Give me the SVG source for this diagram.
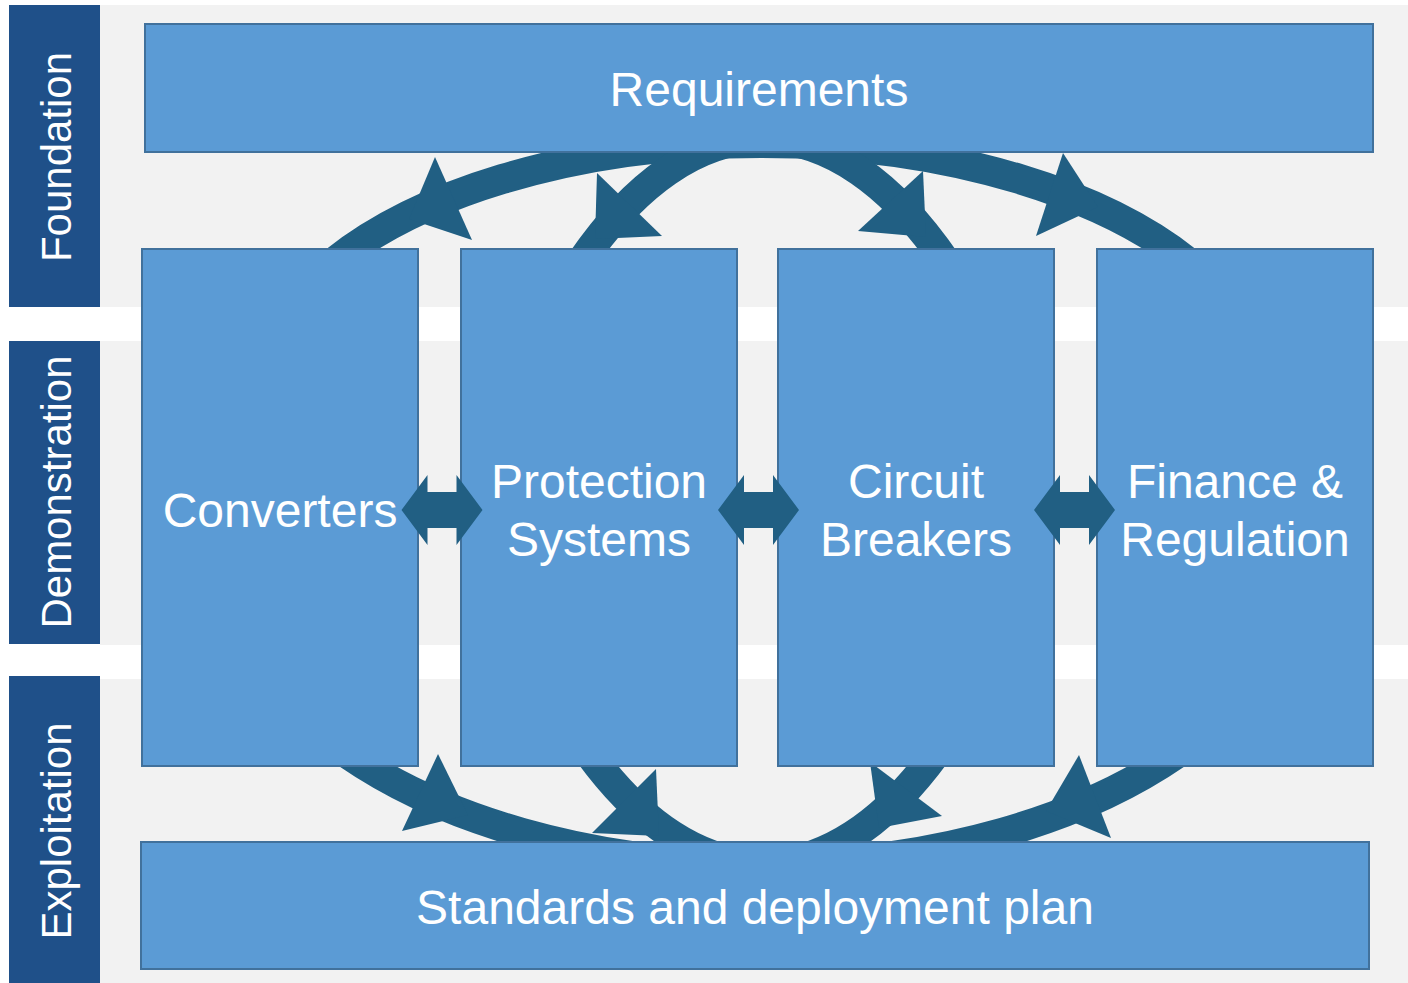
<svg xmlns="http://www.w3.org/2000/svg" width="1408" height="983" viewBox="0 0 1408 983">
  <style>
    .row { fill: #f2f2f2; }
    .phase { fill: #1f5089; }
    .phase-label { font-family: "Liberation Sans", Arial, sans-serif; font-size: 42px; fill: #ffffff; text-anchor: middle; }
    .box { fill: #5b9bd5; stroke: #41719c; stroke-width: 2; }
    .label { font-family: "Liberation Sans", Arial, sans-serif; font-size: 48px; fill: #ffffff; text-anchor: middle; }
    .arc { fill: none; stroke: #215f83; stroke-width: 30; }
    .head { fill: #215f83; }
  </style>
  <defs>
    <!-- areas not covered by boxes: strips above/below the column boxes and the gaps between them -->
    <clipPath id="open-space">
      <rect x="0" y="153" width="1408" height="95"/>
      <rect x="0" y="767" width="1408" height="74"/>
      <rect x="419" y="153" width="41" height="688"/>
      <rect x="738" y="153" width="39" height="688"/>
      <rect x="1055" y="153" width="41" height="688"/>
    </clipPath>
    <polygon id="double-arrow" points="-40.5,0 -14.5,-35 -14.5,-18 14.5,-18 14.5,-35 40.5,0 14.5,35 14.5,18 -14.5,18 -14.5,35"/>
  </defs>

  <!-- background rows -->
  <g id="rows">
    <rect class="row" x="100" y="5" width="1308" height="302"/>
    <rect class="row" x="100" y="341" width="1308" height="304"/>
    <rect class="row" x="100" y="679" width="1308" height="304"/>
  </g>

  <!-- phase bars -->
  <g id="phase-foundation">
    <rect class="phase" x="9" y="5" width="91" height="302"/>
    <text class="phase-label" transform="translate(70.5,157) rotate(-90)">Foundation</text>
  </g>
  <g id="phase-demonstration">
    <rect class="phase" x="9" y="341" width="91" height="303"/>
    <text class="phase-label" transform="translate(70.5,492) rotate(-90)">Demonstration</text>
  </g>
  <g id="phase-exploitation">
    <rect class="phase" x="9" y="676" width="91" height="307"/>
    <text class="phase-label" transform="translate(70.5,831) rotate(-90)">Exploitation</text>
  </g>

  <!-- nodes -->
  <g id="requirements">
    <rect class="box" x="145" y="24" width="1228" height="128"/>
    <text class="label" x="759" y="106">Requirements</text>
  </g>
  <g id="converters">
    <rect class="box" x="142" y="249" width="276" height="517"/>
    <text class="label" x="280" y="527">Converters</text>
  </g>
  <g id="protection-systems">
    <rect class="box" x="461" y="249" width="276" height="517"/>
    <text class="label" x="599" y="498">Protection</text>
    <text class="label" x="599" y="556">Systems</text>
  </g>
  <g id="circuit-breakers">
    <rect class="box" x="778" y="249" width="276" height="517"/>
    <text class="label" x="916" y="498">Circuit</text>
    <text class="label" x="916" y="556">Breakers</text>
  </g>
  <g id="finance-regulation">
    <rect class="box" x="1097" y="249" width="276" height="517"/>
    <text class="label" x="1235" y="498">Finance &amp;</text>
    <text class="label" x="1235" y="556">Regulation</text>
  </g>
  <g id="standards">
    <rect class="box" x="141" y="842" width="1228" height="127"/>
    <text class="label" x="755" y="924">Standards and deployment plan</text>
  </g>

  <!-- connectors -->
  <g id="connectors">
    <g clip-path="url(#open-space)">
      <!-- from Requirements down to the column boxes -->
      <path class="arc" d="M 334.1 262 A 506 257 0 0 1 1187.9 262"/>
      <path class="arc" d="M 581.1 262 A 360 896 0 0 1 945.9 262"/>
      <polygon class="head" points="435,157 472,240 409,219"/>
      <polygon class="head" points="597,173 662,236 595,239"/>
      <polygon class="head" points="923,171 858,231 926,237"/>
      <polygon class="head" points="1063,153 1036,236 1098,207"/>
      <!-- from the column boxes down to the standards -->
      <path class="arc" d="M 347.6 754 A 537 305 0 0 0 1176.4 754"/>
      <path class="arc" d="M 589.7 754 A 360 896 0 0 0 935.3 754"/>
      <polygon class="head" points="438,754 402,831 468,815"/>
      <polygon class="head" points="656,769 592,833 659,836"/>
      <polygon class="head" points="870,762 942,816 879,828"/>
      <polygon class="head" points="1079,755 1111,838 1046,811"/>
    </g>
    <!-- links between neighbouring columns -->
    <use href="#double-arrow" class="head" x="442" y="510"/>
    <use href="#double-arrow" class="head" x="758.5" y="510"/>
    <use href="#double-arrow" class="head" x="1074.5" y="510"/>
  </g>
</svg>
